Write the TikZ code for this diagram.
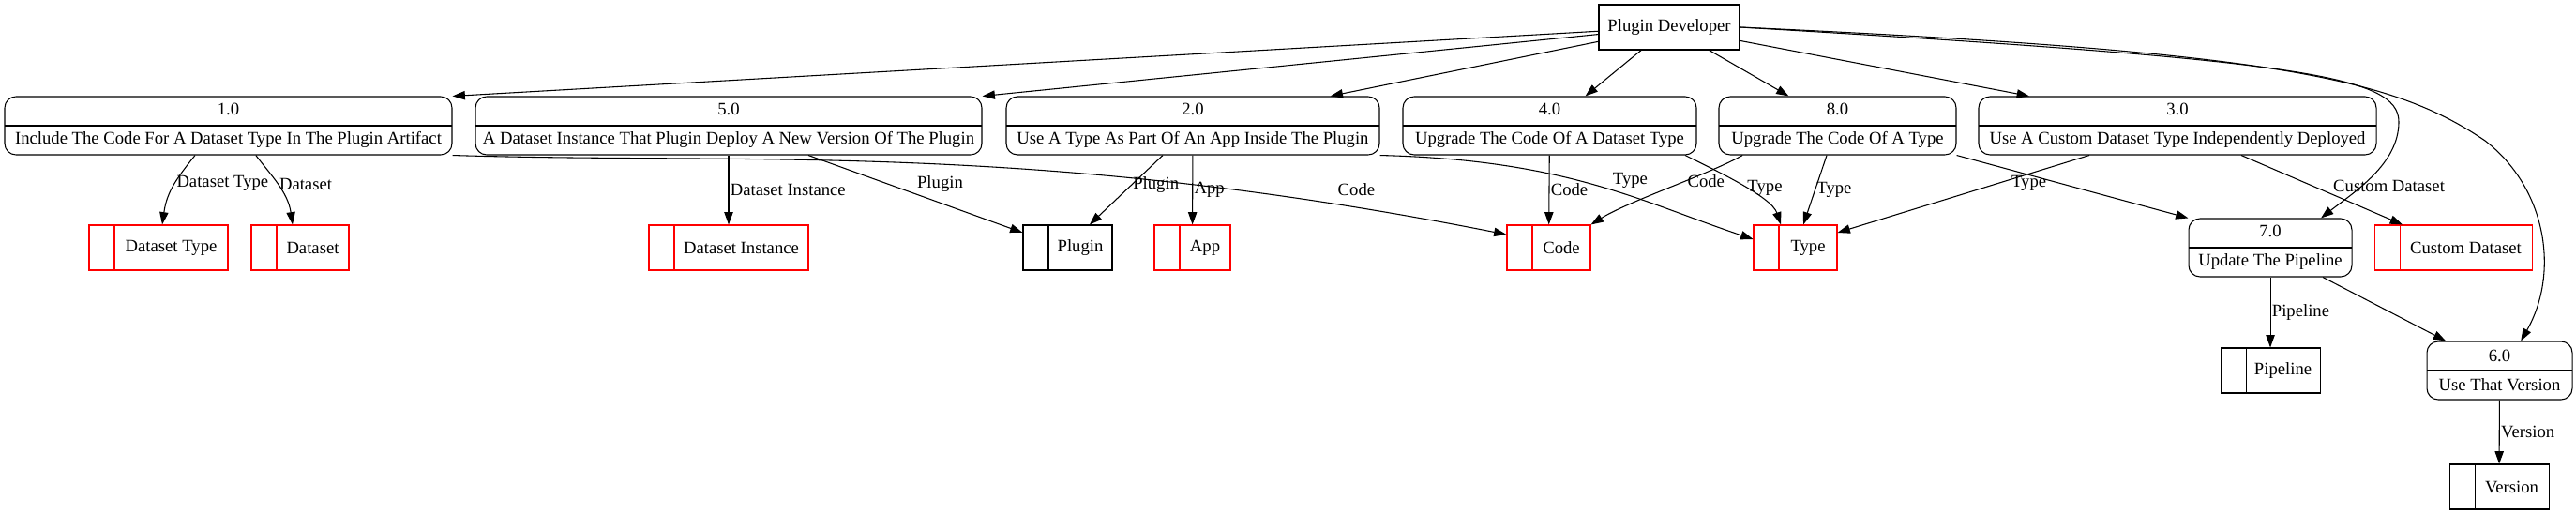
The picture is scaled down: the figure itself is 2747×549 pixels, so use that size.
\documentclass[tikz,border=0pt]{standalone}
\usepackage{fontspec}
\setmainfont{Liberation Serif}
\usetikzlibrary{arrows.meta}
\begin{document}
\begin{tikzpicture}[x=0.75pt, y=-0.75pt, line width=0.8pt,
    font=\fontsize{14}{17}\selectfont,
    >={Triangle[length=10pt,width=7pt]},
    ext/.style={draw, minimum width=#1, minimum height=36pt, inner sep=0pt},
    proc/.style={draw, rounded corners=9pt, minimum width=#1, minimum height=46.5pt,
      inner sep=0pt, align=center, font=\fontsize{14}{23.25}\selectfont,
      path picture={\draw (path picture bounding box.west) -- (path picture bounding box.east);}},
    store/.style={draw=#1, minimum height=36pt, inner sep=0pt,
      execute at begin node={\hspace*{20.25pt}},
      path picture={\draw[#1] ([xshift=20.25pt]path picture bounding box.north west)
        -- ([xshift=20.25pt]path picture bounding box.south west);}},
    store/.default=red,
    lbl/.style={inner sep=1pt}]
      \useasboundingbox (0,0) rectangle (2747,549);
      \node[ext=112.5pt] (dev) at (1780,29) {Plugin Developer};
      \node[proc=357.75pt] (p1) at (243.5,134) {1.0\\Include The Code For A Dataset Type In The Plugin Artifact};
      \node[proc=405pt] (p5) at (777,134) {5.0\\A Dataset Instance That Plugin Deploy A New Version Of The Plugin};
      \node[proc=298.5pt] (p2) at (1272,134) {2.0\\Use A Type As Part Of An App Inside The Plugin};
      \node[proc=234.75pt] (p4) at (1652.5,134) {4.0\\Upgrade The Code Of A Dataset Type};
      \node[proc=189.75pt] (p8) at (1959.5,134) {8.0\\Upgrade The Code Of A Type};
      \node[proc=318pt] (p3) at (2322,134) {3.0\\Use A Custom Dataset Type Independently Deployed};
      \node[proc=130.5pt] (p7) at (2421,264) {7.0\\Update The Pipeline};
      \node[proc=116.25pt] (p6) at (2665.5,395) {6.0\\Use That Version};
      \node[store, minimum width=111pt] (dtype) at (169,264) {Dataset Type};
      \node[store, minimum width=78pt] (dset) at (320,264) {Dataset};
      \node[store, minimum width=127.5pt] (dinst) at (777,264) {Dataset Instance};
      \node[store=black, minimum width=71.25pt] (plugin) at (1138.5,264) {Plugin};
      \node[store, minimum width=60.75pt] (app) at (1271.5,264) {App};
      \node[store, minimum width=66.75pt] (code) at (1651.5,264) {Code};
      \node[store, minimum width=66.75pt] (type) at (1914.5,264) {Type};
      \node[store, minimum width=126pt] (cdset) at (2616,264) {Custom Dataset};
      \node[store=black, minimum width=79.5pt] (pipe) at (2421,395) {Pipeline};
      \node[store=black, minimum width=79.5pt] (ver) at (2665,519) {Version};
      \begin{scope}[->]
        \draw (dev) -- (p1.north east);
        \draw (dev) -- (p5.north east);
        \draw (dev) -- ([xshift=110pt]p2.north);
        \draw (dev) -- ([xshift=28.5pt]p4.north);
        \draw (dev) -- ([xshift=-39pt]p8.north);
        \draw (dev) -- ([xshift=-118.5pt]p3.north);
        \draw (dev.east) .. controls (2450,64) and (2558,80) .. (2558,130)
          .. controls (2558,175) and (2510,205) .. ([xshift=40.5pt]p7.north);
        \draw (dev.east) .. controls (2420,55) and (2550,82) .. (2650,150)
          .. controls (2715,200) and (2730,290) .. ([xshift=17pt]p6.north);
        \draw ([xshift=-26.6pt]p1.south) .. controls +(-20,25) and +(5,-35) .. ([xshift=3pt]dtype.north)
          node[lbl, pos=0.45, anchor=west] {Dataset Type};
        \draw ([xshift=22pt]p1.south) .. controls +(15,20) and +(-5,-35) .. ([xshift=-6pt]dset.north)
          node[lbl, pos=0.5, anchor=west] {Dataset};
        \draw (p1.south east) .. controls +(318,10) and +(-507,-100) .. ([yshift=10.5pt]code.west)
          node[lbl, pos=0.89, anchor=south, yshift=8pt] {Code};
        \draw (p5) -- (dinst) node[lbl, midway, anchor=west] {Dataset Instance};
        \draw ([xshift=63.75pt]p5.south) -- ([yshift=12pt]plugin.west)
          node[lbl, pos=0.5, anchor=south west] {Plugin};
        \draw ([xshift=-24pt]p2.south) -- ([xshift=17.6pt]plugin.north)
          node[lbl, pos=0.43, anchor=west] {Plugin};
        \draw (p2) -- (app) node[lbl, midway, anchor=west] {App};
        \draw (p2.south east) .. controls +(200,5) and +(-120,-40) .. ([yshift=6.75pt]type.west)
          node[lbl, pos=0.55, anchor=south west] {Type};
        \draw (p4) -- (code) node[lbl, midway, anchor=west] {Code};
        \draw ([xshift=108.4pt]p4.south) .. controls +(30,15) and +(-10,-30) .. ([xshift=-11.6pt]type.north)
          node[lbl, pos=0.55, anchor=west] {Type};
        \draw ([xshift=-76pt]p8.south) .. controls +(-35,20) and +(40,-25) .. (code.north east)
          node[lbl, pos=0.4, anchor=west] {Code};
        \draw ([xshift=-8.6pt]p8.south) -- ([xshift=6.4pt]type.north)
          node[lbl, midway, anchor=west] {Type};
        \draw (p8.south east) -- (p7.north west);
        \draw ([xshift=-70.5pt]p3.south) -- ([yshift=12pt]type.east)
          node[lbl, pos=0.24, anchor=north] {Type};
        \draw ([xshift=51pt]p3.south) -- ([xshift=-40.5pt]cdset.north)
          node[lbl, pos=0.56, anchor=south west] {Custom Dataset};
        \draw (p7) -- (pipe) node[lbl, midway, anchor=west] {Pipeline};
        \draw ([xshift=42pt]p7.south) -- ([xshift=-43pt]p6.north);
        \draw (p6) -- (ver) node[lbl, midway, anchor=west] {Version};
      \end{scope}
    \end{tikzpicture}
\end{document}
